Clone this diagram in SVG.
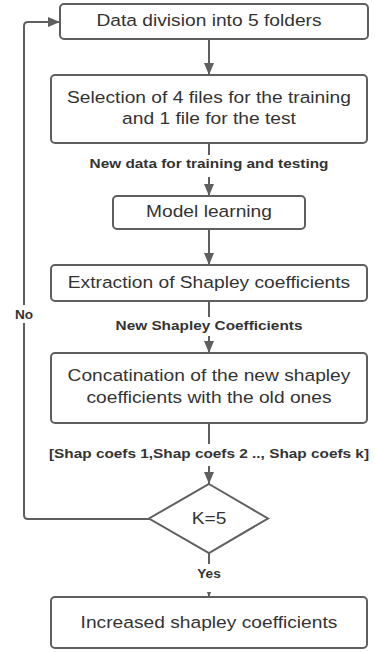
<svg xmlns="http://www.w3.org/2000/svg" width="375" height="652" viewBox="0 0 375 652">
<style>
.box{fill:#fff;stroke:#5f5f5f;stroke-width:2}
.t{font-family:"Liberation Sans",Arial,sans-serif;font-size:17px;fill:#333;text-anchor:middle}
.lb{font-family:"Liberation Sans",Arial,sans-serif;font-size:13.6px;font-weight:bold;fill:#333;text-anchor:middle}
.ln{fill:none;stroke:#5f5f5f;stroke-width:2}
.bg{fill:#fff}
</style>
<defs>
<marker id="ah" markerUnits="userSpaceOnUse" markerWidth="12" markerHeight="10" refX="12" refY="5" orient="auto">
<path d="M0,0 L12,5 L0,10 z" fill="#5f5f5f"/>
</marker>
</defs>
<g id="connectors">
<path class="ln" d="M209,39 V75" marker-end="url(#ah)"/>
<path class="ln" d="M209,143 V196" marker-end="url(#ah)"/>
<path class="ln" d="M209,229 V265" marker-end="url(#ah)"/>
<path class="ln" d="M209,301 V353" marker-end="url(#ah)"/>
<path class="ln" d="M209,423 V484" marker-end="url(#ah)"/>
<path class="ln" d="M209,553 V597" marker-end="url(#ah)"/>
<path class="ln" d="M149,519 H28 Q24,519 24,515 V26 Q24,22 28,22 H60" marker-end="url(#ah)"/>
<g id="lbl-train">
<rect class="bg" x="86" y="155" width="246" height="22"/>
<text class="lb" x="209" y="168" transform="matrix(1.13 0 0 1 -27.17 0)">New data for training and testing</text>
</g>
<g id="lbl-shap">
<rect class="bg" x="112" y="317" width="194" height="19"/>
<text class="lb" x="209" y="330" transform="matrix(1.13 0 0 1 -27.17 0)">New Shapley Coefficients</text>
</g>
<g id="lbl-coefs">
<rect class="bg" x="45" y="444" width="328" height="22"/>
<text class="lb" x="209" y="458" transform="matrix(1.13 0 0 1 -27.17 0)">[Shap coefs 1,Shap coefs 2 .., Shap coefs k]</text>
</g>
<g id="lbl-yes">
<rect class="bg" x="194" y="564" width="30" height="28"/>
<text class="lb" x="209" y="578">Yes</text>
</g>
<g id="lbl-no">
<rect class="bg" x="13" y="305" width="22" height="18"/>
<text class="lb" x="24" y="319">No</text>
</g>
</g>
<g id="n1">
<rect class="box" x="60" y="4" width="308" height="35" rx="4"/>
<text class="t" x="209" y="26" transform="matrix(1.13 0 0 1 -27.17 0)">Data division into 5 folders</text>
</g>
<g id="n2">
<rect class="box" x="51" y="75" width="316" height="68" rx="4"/>
<text class="t" x="209" y="103" transform="matrix(1.13 0 0 1 -27.17 0)">Selection of 4 files for the training</text>
<text class="t" x="209" y="124" transform="matrix(1.13 0 0 1 -27.17 0)">and 1 file for the test</text>
</g>
<g id="n3">
<rect class="box" x="113" y="196" width="192" height="33" rx="4"/>
<text class="t" x="209" y="217" transform="matrix(1.13 0 0 1 -27.17 0)">Model learning</text>
</g>
<g id="n4">
<rect class="box" x="51" y="265" width="316" height="36" rx="4"/>
<text class="t" x="209" y="288" transform="matrix(1.13 0 0 1 -27.17 0)">Extraction of Shapley coefficients</text>
</g>
<g id="n5">
<rect class="box" x="51" y="353" width="316" height="70" rx="4"/>
<text class="t" x="209" y="381.5" transform="matrix(1.13 0 0 1 -27.17 0)">Concatination of the new shapley</text>
<text class="t" x="209" y="403" transform="matrix(1.13 0 0 1 -27.17 0)">coefficients with the old ones</text>
</g>
<g id="n6">
<polygon class="box" points="209,484 268,518.5 209,553 149,518.5"/>
<text class="t" x="209" y="524" transform="matrix(1.13 0 0 1 -27.17 0)">K=5</text>
</g>
<g id="n7">
<rect class="box" x="51" y="597" width="316" height="51" rx="4"/>
<text class="t" x="209" y="628" transform="matrix(1.13 0 0 1 -27.17 0)">Increased shapley coefficients</text>
</g>
</svg>
